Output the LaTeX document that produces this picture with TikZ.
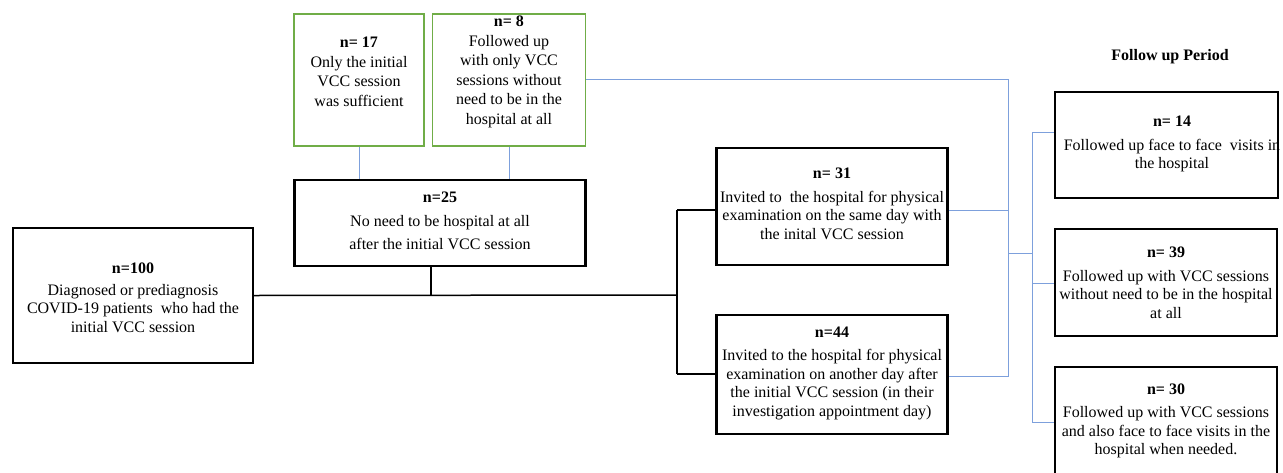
\documentclass[tikz,border=0pt]{standalone}
\usepackage{fontspec}
\setmainfont{Liberation Serif}
\definecolor{boxgreen}{RGB}{112,173,71}
\definecolor{lineblue}{RGB}{125,160,220}
\begin{document}
\begin{tikzpicture}[x=1pt,y=-1pt,
  thickbox/.style={draw=black,line width=2.4pt,rectangle,inner sep=0pt},
  thinbox/.style={draw=black,line width=1.5pt,rectangle,inner sep=0pt},
  greenbox/.style={draw=boxgreen,line width=1.5pt,rectangle,inner sep=0pt},
  txt/.style={align=center,inner sep=0pt,font=\fontsize{16}{18.5}\selectfont},
  gtxt/.style={align=center,inner sep=0pt,font=\fontsize{16}{19.5}\selectfont},
  bl/.style={draw=lineblue,line width=1pt},
  blk/.style={draw=black,line width=1.5pt}]
\useasboundingbox (0,0) rectangle (1283,472);
% boxes
\node[thickbox,minimum width=240pt,minimum height=135pt] (b100) at (133,295.5) {};
\node[thickbox,minimum width=291pt,minimum height=86pt] (b25) at (440,223) {};
\node[greenbox,minimum width=130pt,minimum height=132pt] (b17) at (359,80) {};
\node[greenbox,minimum width=153pt,minimum height=132pt] (b8) at (509,80) {};
\node[thickbox,minimum width=231pt,minimum height=117pt] (b31) at (832,206.5) {};
\node[thickbox,minimum width=231pt,minimum height=119pt] (b44) at (832,374.5) {};
\node[thickbox,minimum width=223pt,minimum height=106pt] (b14) at (1166.5,145) {};
\node[thinbox,minimum width=222pt,minimum height=107pt] (b39) at (1166,282.5) {};
\node[thinbox,minimum width=222pt,minimum height=107pt] (b30) at (1166,420.5) {};
% texts
\node[txt] (t100) at (133,298) {\textbf{n=100}\\[3pt]Diagnosed or prediagnosis\\COVID-19 patients\ \ who had the\\initial VCC session};
\node[txt] (t25) at (440,221) {\textbf{n=25}\\[5pt]No need to be hospital at all\\[5pt]after the initial VCC session};
\node[gtxt] (t17) at (359,72) {\textbf{n= 17}\\Only the initial\\VCC session\\was sufficient};
\node[gtxt] (t8) at (509,72) {\textbf{n= 8}\\Followed up\\with only VCC\\sessions without\\need to be in the\\hospital at all};
\node[txt] (t31) at (832,204) {\textbf{n= 31}\\[5pt]Invited to\ \ the hospital for physical\\examination on the same day with\\the inital VCC session};
\node[txt] (t44) at (832,373) {\textbf{n=44}\\[5pt]Invited to the hospital for physical\\examination on another day after\\the initial VCC session (in their\\investigation appointment day)};
\node[txt] (t14) at (1172,144) {\textbf{n= 14}\\[5pt]Followed up face to face\ \ visits in\\the hospital};
\node[txt] (t39) at (1166,283) {\textbf{n= 39}\\[5pt]Followed up with VCC sessions\\without need to be in the hospital\\at all};
\node[txt] (t30) at (1166,421) {\textbf{n= 30}\\[5pt]Followed up with VCC sessions\\and also face to face visits in the\\hospital when needed.};
\node[font=\fontsize{16}{18}\selectfont\bfseries,inner sep=0pt] (fup) at (1170,57) {Follow up Period};
% black connectors
\coordinate (jmain) at (677,295);
\coordinate (j31) at (677,210);
\coordinate (j44) at (677,374);
\coordinate (s25) at (431,266);
\draw[blk] (b100.east) -- (jmain);
\draw[blk] (s25) -- (s25 |- jmain);
\draw[blk] (j31) -- (j44);
\draw[blk] (j31) -- (j31 -| b31.west);
\draw[blk] (j44) -- (j44 -| b44.west);
% blue connectors green -> n25
\draw[bl] (b17.south) -- (b25.north -| b17.south);
\draw[bl] (b8.south) -- (b25.north -| b8.south);
% blue collector
\coordinate (c8) at (1008,79);
\coordinate (c31) at (1008,210);
\coordinate (cmid) at (1008,253);
\coordinate (c44) at (1008,376);
\coordinate (d14) at (1032,132);
\coordinate (dmid) at (1032,253);
\coordinate (d39) at (1032,283);
\coordinate (d30) at (1032,422);
\draw[bl] (c8 -| b8.east) -- (c8) -- (c44) -- (c44 -| b44.east);
\draw[bl] (c31 -| b31.east) -- (c31);
\draw[bl] (cmid) -- (dmid);
\draw[bl] (d14) -- (d30);
\draw[bl] (d14) -- (d14 -| b14.west);
\draw[bl] (d39) -- (d39 -| b39.west);
\draw[bl] (d30) -- (d30 -| b30.west);
\end{tikzpicture}
\end{document}
